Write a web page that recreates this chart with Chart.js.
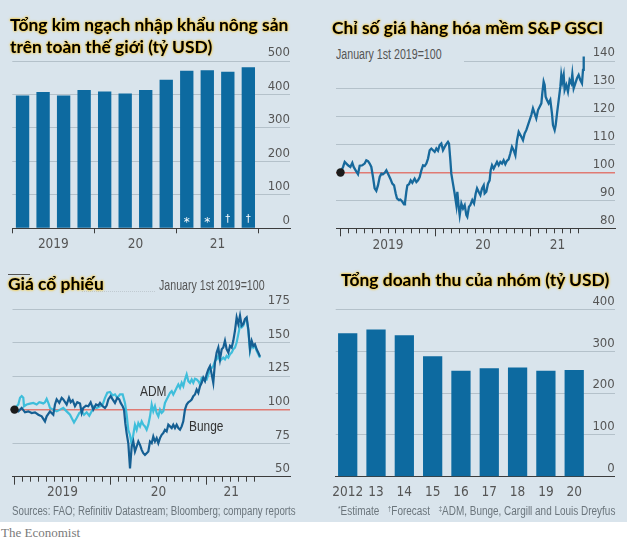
<!DOCTYPE html>
<html><head><meta charset="utf-8">
<script src="https://cdn.jsdelivr.net/npm/chart.js@4.4.0/dist/chart.umd.min.js"></script>
<style>
html,body{margin:0;padding:0;background:#fff;}
#wrap{position:relative;width:627px;height:543px;overflow:hidden;background:#fff;}
#bg{position:absolute;left:0;top:0;width:627px;height:522px;background:#d9e4ec;}
canvas{position:absolute;}
.t{position:absolute;white-space:nowrap;font-family:Lato,'Open Sans',sans-serif;font-weight:700;color:#000;font-size:17.4px;line-height:22px;text-shadow:0 0 2px rgba(255,185,0,0.95),0 0 3px rgba(255,200,0,0.8);}
.s{position:absolute;white-space:nowrap;font-family:'Liberation Sans',Arial,sans-serif;color:#555;font-size:13px;line-height:16px;transform:scaleX(0.82);transform-origin:0 0;}
.s sup{font-size:8px;vertical-align:4px;line-height:0;}
</style></head>
<body><div id="wrap">
<div id="bg"></div>
<canvas id="c1" width="313" height="260" style="left:0;top:0;width:313px;height:260px"></canvas>
<canvas id="c2" width="314" height="260" style="left:313px;top:0;width:314px;height:260px"></canvas>
<canvas id="c3" width="313" height="263" style="left:0;top:260px;width:313px;height:263px"></canvas>
<canvas id="c4" width="314" height="263" style="left:313px;top:260px;width:314px;height:263px"></canvas>

<div class="t" style="left:10px;top:14px">Tổng kim ngạch nhập khẩu nông sản<br>trên toàn thế giới (tỷ USD)</div>
<div class="t" style="left:332px;top:17px">Chỉ số giá hàng hóa mềm S&amp;P GSCI</div>
<div style="position:absolute;left:8px;top:274px;width:22px;height:1px;background:#555"></div>
<div style="position:absolute;left:82px;top:291px;width:73px;height:0;border-top:1px dotted #c0cad1"></div>
<div class="t" style="left:8px;top:273px">Giá cổ phiếu</div>
<div class="t" style="left:341px;top:269px">Tổng doanh thu của nhóm (tỷ USD)</div>

<div class="s" style="left:336px;top:46px;font-size:14px;padding-right:30px;background:#d9e4ec;transform:scaleX(0.76)">January 1st 2019=100</div>
<div class="s" style="left:159px;top:277px;font-size:14px;transform:scaleX(0.76)">January 1st 2019=100</div>
<div class="s" style="left:140px;top:383px;font-size:14.5px;color:#333">ADM</div>
<div class="s" style="left:189px;top:418px;font-size:14.5px;color:#333">Bunge</div>
<div class="s" style="left:12px;top:503px;font-size:12px;color:#6b757c;transform:scaleX(0.81)">Sources: FAO; Refinitiv Datastream; Bloomberg; company reports</div>
<div class="s" style="left:338px;top:503px;font-size:12px;color:#6b757c;transform:scaleX(0.83)"><sup>*</sup>Estimate&nbsp;&nbsp;&nbsp;<sup>†</sup>Forecast&nbsp;&nbsp;&nbsp;<sup>‡</sup>ADM, Bunge, Cargill and Louis Dreyfus</div>
<div style="position:absolute;left:1px;top:525px;font-family:'Liberation Serif','DejaVu Serif',serif;font-size:13px;line-height:16px;color:#7a7a7a">The Economist</div>
</div>
<script>
// ---------- data ----------
const importQuarters = ['2019 Q1','2019 Q2','2019 Q3','2019 Q4','2020 Q1','2020 Q2','2020 Q3','2020 Q4','2021 Q1','2021 Q2','2021 Q3','2021 Q4'];
const importValues = [397, 407, 397, 413, 409, 403, 413, 444, 471, 472, 468, 481];
const importMarks = ['','','','','','','','','*','*','†','†'];
const importYearLabels = ['2019','20','21'];
const importTicks = [0,100,200,300,400,500];

const revenueYears = ['2012','13','14','15','16','17','18','19','20'];
const revenueValues = [343, 352, 338, 288, 253, 259, 261, 253, 255];
const revenueTicks = [0,100,200,300,400];

// months since January 1st 2019
const gsciMonths = [0,0.32,0.53,0.74,0.95,1.24,1.49,1.66,1.91,2.21,2.42,2.76,3.05,3.26,3.47,3.68,3.89,4.10,4.31,4.52,4.73,4.95,5.16,5.37,5.58,5.79,6.00,6.29,6.54,6.76,6.97,7.13,7.39,7.56,7.81,8.02,8.14,8.31,8.44,8.65,8.86,9.07,9.36,9.58,9.79,10.0,10.21,10.42,10.63,10.84,11.05,11.26,11.47,11.68,11.89,12.10,12.31,12.52,12.73,12.94,13.15,13.36,13.57,13.70,13.87,13.99,14.20,14.41,14.63,14.75,14.92,15.05,15.26,15.47,15.68,15.89,16.01,16.22,16.39,16.64,16.86,17.07,17.24,17.44,17.66,17.87,18.08,18.20,18.41,18.62,18.83,18.96,19.13,19.34,19.55,19.76,19.97,20.18,20.39,20.60,20.81,21.02,21.23,21.44,21.65,21.86,22.08,22.29,22.50,22.62,22.83,23.04,23.25,23.46,23.67,23.88,24.09,24.30,24.51,24.72,24.94,25.15,25.36,25.48,25.65,25.78,25.90,26.07,26.28,26.49,26.70,26.83,27.04,27.17,27.34,27.55,27.76,27.88,28.01,28.18,28.30,28.51,28.72,28.93,29.14,29.27,29.44,29.65,29.86,30.07,30.28,30.49,30.62,30.71];
const gsciValues = [100,102.0,103.8,103.2,102.6,102.0,103.5,102.0,100.8,99.4,102.4,102.6,103.2,104.4,104.1,103.2,102.0,98.4,94.3,93.4,95.4,98.4,99.6,99.4,99.9,100.8,99.6,97.8,96.0,95.4,92.5,90.7,90.1,90.3,89.5,88.6,89.1,93.1,95.4,95.8,97.2,96.3,97.8,96.6,97.2,98.4,100.8,102.6,102.3,103.2,105.0,108.0,108.6,108.0,107.4,108.6,107.8,109.8,110.4,108.0,109.2,110.2,111.0,110.4,104.4,99.6,96.0,92.5,88.3,93.1,87.7,84.7,88.9,87.1,88.3,84.7,84.1,87.7,88.3,90.1,88.9,92.5,94.3,93.1,91.9,94.3,95.4,92.5,93.1,96.0,97.2,100.8,102.6,101.4,102.6,103.8,102.6,103.8,103.2,104.4,103.0,104.2,104.7,106.8,109.2,108.0,106.2,111.6,114.6,114.0,112.8,111.6,114.0,115.2,117.0,118.8,120.6,123.0,121.2,119.4,122.4,123.6,124.8,128.4,132.6,131.4,127.2,126.0,124.8,126.0,121.2,117.0,115.2,117.0,121.2,126.0,130.8,135.0,132.6,135.0,129.6,131.4,129.0,133.2,132.0,135.3,130.2,132.0,133.8,135.0,133.2,132.0,136.8,141.6];
const gsciTicks = [80,90,100,110,120,130,140];

const bungeMonthsEarly = [0,0.48,0.90,1.31,1.73,2.15,2.56,2.98,3.40,3.81,4.02,4.44,4.85,5.06,5.27,5.60,5.90,6.10,6.52,6.81,7.02,7.27,7.56,7.85,8.19,8.40,8.60,8.94,9.23,9.52,9.85,10.19,10.48,10.69,11.02,11.31,11.52,11.73,12.02,12.27,12.56,12.85,13.10,13.27,13.52,13.69,13.85,14.02,14.23,14.44];
const bungeValuesEarly = [100,98.7,101.3,98,98.7,97.5,98,96.2,95,91.2,95,98.7,96.2,103.8,107.6,105,108.8,107.6,103.8,108.8,105.5,107,102.5,105.5,104.5,97.5,101.3,103,102.5,105.5,100,103.8,103,105,102.5,101.3,103,107.6,110.1,107.6,105,108.8,107.6,105,102.5,100,89.9,82.3,74.7,56.2];
const admMonthsEarly = [0,0.27,0.48,0.69,0.90,1.10,1.19,1.52,1.94,2.35,2.77,3.10,3.40,3.60,3.81,4.02,4.23,4.44,4.85,5.27,5.69,6.10,6.52,6.94,7.15,7.44,7.77,8.10,8.40,8.69,9.02,9.35,9.65,9.94,10.27,10.69,11.02,11.31,11.60,11.94,12.27,12.56,12.85,13.19,13.52,13.81,14.02,14.23,14.44];
const admValuesEarly = [100,102.5,103.8,108.8,110.1,108.8,102.5,103.8,104.5,105,103.8,105.5,105,104.5,105.5,108,105,101.3,100,98.7,100,101.3,98.7,96.2,93.7,90.4,93.7,97.5,98.7,96.2,98,95.5,98.7,102.5,101.3,102.5,103.8,108.8,112.6,113.1,110.6,111.4,108.8,111.4,111.4,105,96.2,84.8,81.1];
const stockMonthsLate = [14.65,14.85,15.06,15.27,15.48,15.69,15.90,16.10,16.31,16.52,16.73,16.94,17.15,17.35,17.56,17.77,17.98,18.19,18.40,18.60,18.81,19.02,19.23,19.44,19.65,19.85,20.06,20.27,20.48,20.69,20.90,21.10,21.31,21.52,21.73,21.94,22.15,22.35,22.56,22.77,22.98,23.19,23.40,23.60,23.81,24.02,24.23,24.44,24.65,24.85,25.06,25.27,25.48,25.69,25.90,26.10,26.31,26.52,26.73,26.94,27.15,27.35,27.56,27.77,27.98,28.19,28.40,28.60,28.81,29.02,29.23,29.44,29.65,29.85,30.06,30.27,30.48,30.69];
const bungeValuesLate = [72.5,76.25,68.75,72.5,76.25,73.75,70,67.5,66.25,67.5,68.75,76.25,75,80,76.25,78.75,75,78.75,81.25,82.5,85,83.75,88.75,87.5,86.25,88.75,86.25,88.75,86.25,85,87.5,91.25,100,103.75,105.5,106.25,107.5,110,111.25,115,112.5,117.5,120,123.75,121.25,126.25,130,132.5,126.25,120,135,142.5,146.25,137.5,145,146.25,151.25,145,142.5,147.5,146.25,151.25,158.75,168.75,163.75,170,162.5,163.75,167.5,168.75,160,145,151.25,147.5,148.75,145,142.5,139.5];
const admValuesLate = [74,81.25,88.75,85,90,87.5,91.25,88.75,87.5,85,88.75,95,103.75,98.75,102.5,97.5,95,100,97.5,98.75,105,107.5,110,112.5,113.75,111.25,113.75,116.25,118.75,116.25,120,117.5,122.5,126.25,121.25,120,122.5,120,123,122.5,121.25,118.75,123.75,123.75,123,122.5,126,130,131,132.5,136.25,137.5,140,136.25,137.5,138.75,137.5,140,138.75,141.25,142.5,145,146.25,150,156.25,162.5,161.25,162.5,166.25,167.5,158.75,143.75,150,146.25,147.5,143.75,141.25,138.75];
const stockTicks = [50,75,100,125,150,175];

const monthTicks = [0,1,2,3,4,5,6,7,8,9,10,11,12,13,14,15,16,17,18,19,20,21,22,23,24,25,26,27,28,29,30];
const yearTicks = [0,12,24];
const yearLabels = ['2019','20','21'];
const baseMonth = 0, baseIndex = 100;

// ---------- styling ----------
const FONT = "'Liberation Sans Narrow','DejaVu Sans Condensed',Roboto,sans-serif";
Chart.defaults.font.family = FONT;
Chart.defaults.font.size = 13;
Chart.defaults.color = '#555';
const GRID = '#b4c1ca', AXIS = '#3c3c3c', RED = '#e07a73';
const BAR = '#0d6aa0', LINE = '#17699c', ADM = '#3fbedb', BUNGE = '#155f93';
const LABEL_H = 30;

const zeroH = s => { s.height = 0; };
const zeroW = s => { s.width = 0; };
const setTicks = arr => s => { s.ticks = arr.map(v => ({value: v})); };

function yScale(ticks, redValue) {
  const min = ticks[0], max = ticks[ticks.length - 1];
  return {
    type: 'linear', position: 'right', min, max,
    afterFit: zeroW, afterBuildTicks: setTicks(ticks),
    border: {display: false},
    grid: {
      drawTicks: false,
      color: c => c.tick.value === min ? 'rgba(0,0,0,0)' : (c.tick.value === redValue ? RED : GRID),
      lineWidth: c => c.tick.value === redValue ? 1.6 : 1
    },
    ticks: {mirror: true, padding: 0, labelOffset: -8, color: '#555', font: {size: 13}}
  };
}
function tickAxis(min, max, ticks, len, border) {
  return {
    type: 'linear', position: 'bottom', min, max, offset: false,
    afterFit: zeroH, afterBuildTicks: setTicks(ticks),
    border: {display: border, color: AXIS, width: 1},
    grid: {offset: false, drawOnChartArea: false, drawTicks: true, tickLength: len, color: AXIS, tickColor: AXIS, lineWidth: 1},
    ticks: {autoSkip: false, maxRotation: 0, callback: () => ''}
  };
}
function labelAxis(min, max, pos, labels, pad) {
  return {
    type: 'linear', position: 'bottom', min, max, offset: false,
    afterFit: s => { s.height = LABEL_H; }, afterBuildTicks: setTicks(pos),
    border: {display: false},
    grid: {display: false, drawTicks: false, offset: false},
    ticks: {autoSkip: false, maxRotation: 0, padding: pad, color: '#555', font: {size: 13.5}, callback: (v, i) => labels[i]}
  };
}
const xy = (xs, ys) => xs.map((x, i) => ({x, y: ys[i]}));

const barMarks = {
  id: 'barMarks',
  afterDatasetsDraw(chart, args, opts) {
    if (!opts || !opts.marks) return;
    const meta = chart.getDatasetMeta(0), ctx = chart.ctx;
    ctx.save();
    ctx.fillStyle = '#fff'; ctx.textAlign = 'center'; ctx.textBaseline = 'middle';
    meta.data.forEach((el, i) => {
      const m = opts.marks[i];
      if (!m) return;
      ctx.font = (m === '*' ? '12px ' : '10px ') + "'DejaVu Sans',sans-serif";
      ctx.fillText(m, el.x, el.base - (m === '*' ? 5 : 8));
    });
    ctx.restore();
  }
};
const common = pad => ({
  responsive: false, animation: false, devicePixelRatio: 1,
  layout: {padding: pad},
  plugins: {legend: {display: false}, tooltip: {enabled: false}, title: {display: false}}
});
const dot = {data: [{x: baseMonth, y: baseIndex}], showLine: false, pointRadius: 4.2, pointBackgroundColor: '#1b1b1b', pointBorderColor: '#1b1b1b', pointBorderWidth: 0, order: 0, clip: false};

// ---------- panel 1: world agri imports ----------
{
  const opt = common({left: 12.3, right: 23, top: 61, bottom: 31.7 - LABEL_H});
  opt.plugins.barMarks = {marks: importMarks};
  opt.scales = {
    x: tickAxis(-0.5, 13.03, [-0.5, 3.5, 7.5, 11.5], 5, true),
    xl: labelAxis(-0.5, 13.03, [1.5, 5.5, 9.5], importYearLabels, 8),
    y: yScale(importTicks, null)
  };
  new Chart(document.getElementById('c1'), {
    type: 'bar',
    data: {labels: importQuarters, datasets: [{data: xy(importQuarters.map((q, i) => i), importValues), backgroundColor: BAR, borderWidth: 0, categoryPercentage: 1, barPercentage: 0.65}]},
    options: opt, plugins: [barMarks]
  });
}
// ---------- panel 2: S&P GSCI softs ----------
{
  const opt = common({left: 23, right: 12, top: 61, bottom: 31.7 - LABEL_H});
  opt.scales = {
    x: tickAxis(-0.57, 34.66, monthTicks, 5, true),
    xy: tickAxis(-0.57, 34.66, yearTicks, 8, false),
    xl: labelAxis(-0.57, 34.66, [6, 18, 27.4], yearLabels, 9),
    y: yScale(gsciTicks, 100)
  };
  new Chart(document.getElementById('c2'), {
    type: 'line',
    data: {datasets: [dot, {data: xy(gsciMonths, gsciValues), borderColor: LINE, borderWidth: 2.3, pointRadius: 0, tension: 0, clip: false, order: 1}]},
    options: opt
  });
}
// ---------- panel 3: share prices ----------
{
  const opt = common({left: 12.5, right: 23, top: 49, bottom: 46.3 - LABEL_H});
  opt.scales = {
    x: tickAxis(-0.25, 34.44, monthTicks, 5, true),
    xy: tickAxis(-0.25, 34.44, yearTicks, 8, false),
    xl: labelAxis(-0.25, 34.44, [6, 18, 27.1], yearLabels, 7.5),
    y: yScale(stockTicks, 100)
  };
  new Chart(document.getElementById('c3'), {
    type: 'line',
    data: {datasets: [
      Object.assign({}, dot),
      {label: 'Bunge', data: xy(bungeMonthsEarly.concat(stockMonthsLate), bungeValuesEarly.concat(bungeValuesLate)), borderColor: BUNGE, borderWidth: 2.2, pointRadius: 0, tension: 0, order: 1},
      {label: 'ADM', data: xy(admMonthsEarly.concat(stockMonthsLate), admValuesEarly.concat(admValuesLate)), borderColor: ADM, borderWidth: 2.2, pointRadius: 0, tension: 0, order: 2}
    ]},
    options: opt
  });
}
// ---------- panel 4: group revenue ----------
{
  const opt = common({left: 22.7, right: 12.3, top: 49.3, bottom: 46.3 - LABEL_H});
  opt.scales = {
    x: tickAxis(-0.424, 9.43, [], 0, true),
    xl: labelAxis(-0.424, 9.43, revenueYears.map((y, i) => i), revenueYears, 8),
    y: yScale(revenueTicks, null)
  };
  new Chart(document.getElementById('c4'), {
    type: 'bar',
    data: {labels: revenueYears, datasets: [{data: xy(revenueYears.map((y, i) => i), revenueValues), backgroundColor: BAR, borderWidth: 0, categoryPercentage: 1, barPercentage: 0.68}]},
    options: opt
  });
}
</script>
</body></html>
